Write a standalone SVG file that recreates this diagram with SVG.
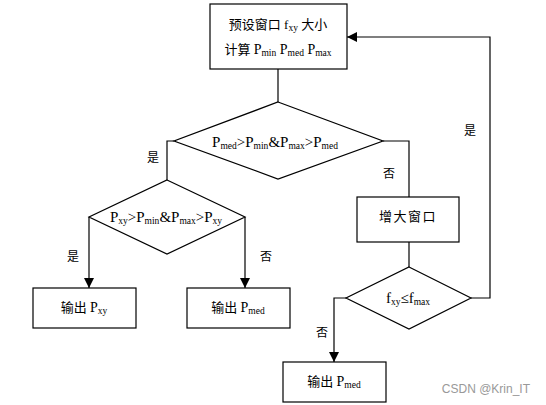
<svg xmlns="http://www.w3.org/2000/svg" width="546" height="405" viewBox="0 0 546 405">
<defs>
<marker id="arr" markerWidth="10" markerHeight="10" refX="10" refY="5" orient="auto" markerUnits="userSpaceOnUse">
<path d="M0,0 L10,5 L0,10 Z" fill="#000"/>
</marker>
<style>
.n{fill:#fff;stroke:#000;stroke-width:1.2}
.t{font-family:"Liberation Serif","Noto Sans CJK SC",serif;font-size:13px;fill:#000;text-anchor:middle}
.d{font-size:15px}
.s{font-size:9.5px}
.c{fill:none;stroke:#000;stroke-width:1.2}
.l{font-family:"Noto Sans CJK SC",sans-serif;font-size:12px;fill:#000;text-anchor:middle}
</style>
</defs>
<rect width="546" height="405" fill="#fff"/>
<g id="connectors">
<path class="c" d="M278,69 V102"/>
<path class="c" d="M174,141 H167 V180"/>
<path class="c" d="M383,141 H409 V197"/>
<path class="c" d="M89,217 V288" marker-end="url(#arr)"/>
<path class="c" d="M245,217 V288" marker-end="url(#arr)"/>
<path class="c" d="M409,242 V267"/>
<path class="c" d="M471,298 H490 V37 H347" marker-end="url(#arr)"/>
<path class="c" d="M346,298 H334 V362" marker-end="url(#arr)"/>
<text class="l" x="153" y="162">是</text>
<text class="l" x="389" y="178">否</text>
<text class="l" x="73" y="261">是</text>
<text class="l" x="266" y="261">否</text>
<text class="l" x="322" y="337">否</text>
<text class="l" x="470" y="135">是</text>
</g>
<g id="start">
<rect class="n" x="210" y="4" width="137" height="65"/>
<text class="t" x="278" y="29">预设窗口 f<tspan class="s" dy="2">xy</tspan><tspan dy="-2"> 大小</tspan></text>
<text class="t" x="278" y="54">计算 <tspan font-size="14">P</tspan><tspan class="s" dy="2">min</tspan><tspan dy="-2" font-size="14"> P</tspan><tspan class="s" dy="2">med</tspan><tspan dy="-2" font-size="14"> P</tspan><tspan class="s" dy="2">max</tspan></text>
</g>
<g id="cond1">
<polygon class="n" points="278,102 383,141 278,179 174,141"/>
<text class="t d" x="275" y="147">P<tspan class="s" dy="2">med</tspan><tspan dy="-2">&gt;P</tspan><tspan class="s" dy="2">min</tspan><tspan dy="-2">&amp;P</tspan><tspan class="s" dy="2">max</tspan><tspan dy="-2">&gt;P</tspan><tspan class="s" dy="2">med</tspan></text>
</g>
<g id="cond2">
<polygon class="n" points="167,180 245,217 167,254 89,217"/>
<text class="t d" x="166" y="222">P<tspan class="s" dy="2">xy</tspan><tspan dy="-2">&gt;P</tspan><tspan class="s" dy="2">min</tspan><tspan dy="-2">&amp;P</tspan><tspan class="s" dy="2">max</tspan><tspan dy="-2">&gt;P</tspan><tspan class="s" dy="2">xy</tspan></text>
</g>
<g id="enlarge">
<rect class="n" x="357" y="197" width="102" height="45"/>
<text class="t" x="408" y="221" letter-spacing="1.5">增大窗口</text>
</g>
<g id="cond3">
<polygon class="n" points="409,267 471,298 409,329 346,298"/>
<text class="t d" x="408" y="303">f<tspan class="s" dy="2">xy</tspan><tspan dy="-2">≤f</tspan><tspan class="s" dy="2">max</tspan></text>
</g>
<g id="outPxy">
<rect class="n" x="33" y="288" width="103" height="40"/>
<text class="t" x="84" y="312">输出 <tspan font-size="14">P</tspan><tspan class="s" dy="2">xy</tspan></text>
</g>
<g id="outPmed1">
<rect class="n" x="187" y="288" width="103" height="40"/>
<text class="t" x="238" y="312">输出 <tspan font-size="14">P</tspan><tspan class="s" dy="2">med</tspan></text>
</g>
<g id="outPmed2">
<rect class="n" x="283" y="362" width="103" height="40"/>
<text class="t" x="334" y="386">输出 <tspan font-size="14">P</tspan><tspan class="s" dy="2">med</tspan></text>
</g>
<text x="530" y="393" font-family="Liberation Sans,Arial,sans-serif" font-size="12" fill="#999" text-anchor="end">CSDN @Krin_IT</text>
</svg>
